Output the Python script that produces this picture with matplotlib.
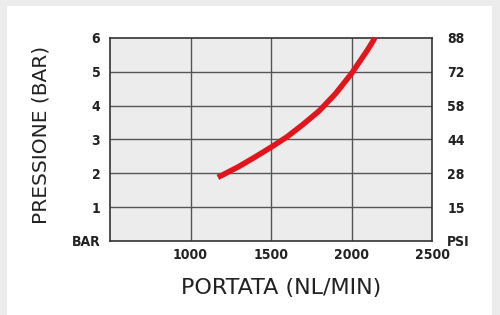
import matplotlib
matplotlib.use("Agg")
import matplotlib.pyplot as plt
from matplotlib.patches import Rectangle
import numpy as np

flow = [1170, 1300, 1400, 1500, 1600, 1700, 1800, 1900, 2000, 2100, 2145]
pressure = [1.88, 2.2, 2.48, 2.77, 3.08, 3.45, 3.85, 4.35, 4.95, 5.65, 6.0]
x_ticks = [1000, 1500, 2000, 2500]
bar_ticks = [0, 1, 2, 3, 4, 5, 6]
bar_labels = ["BAR", "1", "2", "3", "4", "5", "6"]
psi_labels = ["PSI", "15", "28", "44", "58", "72", "88"]

W, H = 500, 315
fig = plt.figure(figsize=(5, 3.15), dpi=100)
fig.patch.set_facecolor("#ececec")
fig.patches.append(Rectangle((7 / W, 0), (492 - 7) / W, (H - 6) / H,
                             transform=fig.transFigure, facecolor="white",
                             edgecolor="none", zorder=-10))

ax = fig.add_axes([110 / W, 1 - 241 / H, (432 - 110) / W, (241 - 38) / H])
ax.set_facecolor("#ececec")
ax.set_xlim(500, 2500)
ax.set_ylim(0, 6)

tick_font = dict(family="DejaVu Sans", stretch="condensed", weight="bold", size=10)
ax.set_xticks(x_ticks)
ax.set_xticklabels([str(t) for t in x_ticks], **tick_font)
ax.set_yticks(bar_ticks)
ax.set_yticklabels(bar_labels, **tick_font)
ax.tick_params(length=0, pad=7, colors="#222222")
ax.tick_params(axis="x", pad=5)

for x in x_ticks[:-1]:
    ax.axvline(x, color="#555555", lw=1.0, zorder=1)
for y in bar_ticks[1:-1]:
    ax.axhline(y, color="#555555", lw=1.0, zorder=1)
for s in ax.spines.values():
    s.set_color("#333333")
    s.set_linewidth(1.2)

ax2 = ax.twinx()
ax2.set_ylim(0, 6)
ax2.set_yticks(bar_ticks)
ax2.set_yticklabels(psi_labels, **tick_font)
ax2.tick_params(length=0, pad=11, colors="#222222")
for s in ax2.spines.values():
    s.set_visible(False)

ax.plot(flow, pressure, color="#e3151c", lw=4.0, solid_capstyle="butt",
        zorder=3, clip_on=False)

fig.text(281 / W, 1 - 288 / H, "PORTATA (NL/MIN)", ha="center", va="center",
         family="DejaVu Sans", size=16, color="#222222")
fig.text(41 / W, 1 - 135 / H, "PRESSIONE (BAR)", ha="center", va="center",
         rotation=90, family="DejaVu Sans", size=14.5, color="#222222")

fig.savefig("out.png", dpi=100, facecolor=fig.get_facecolor())
